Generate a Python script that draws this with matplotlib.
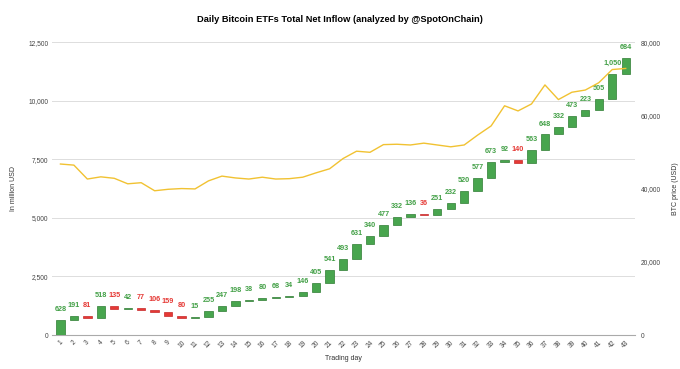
import numpy as np
import matplotlib.pyplot as plt

plt.rcParams['font.family'] = ['Liberation Sans', 'DejaVu Sans']

# Daily net inflow (million USD), trading days 1..43
days = list(range(1, 44))
flows = [628, 191, -81, 518, -135, 42, -77, -106, -159, -80,
         15, 255, 247, 198, 38, 80, 68, 34, 146, 405,
         541, 493, 631, 340, 477, 332, 136, -36, 251, 232,
         520, 577, 673, 92, -140, 563, 648, 332, 473, 223,
         505, 1050, 684]

# BTC price (USD)
btc = [46700, 46400, 42600, 43200, 42800, 41300, 41600, 39400, 39800, 40000,
       39900, 42100, 43400, 42900, 42600, 43100, 42600, 42700, 43100, 44300,
       45400, 48200, 50200, 49900, 52000, 52100, 51900, 52400, 51900, 51400,
       51900, 54600, 57100, 62600, 61200, 63100, 68300, 64300, 66300, 66900,
       68900, 72500, 72800]

green = '#48a54e'
green_edge = '#2e7d32'
red = '#e53935'

flows = np.array(flows)
end = np.cumsum(flows)
start = end - flows
bottoms = np.minimum(start, end)
tops = np.maximum(start, end)
colors = [green if v >= 0 else red for v in flows]
edges = [green_edge if v >= 0 else '#c62828' for v in flows]

fig = plt.figure(figsize=(6.8, 3.69), dpi=100)
ax = fig.add_axes([0.077, 0.092, 0.857, 0.794])

ax.bar(days, np.abs(flows), bottom=bottoms, width=0.62, color=colors,
       edgecolor=edges, linewidth=0.5, zorder=3)

for d, v, t in zip(days, flows, tops):
    ax.annotate(f'{abs(v):,}', (d, t), xytext=(0, 5), textcoords='offset points',
                ha='center', va='bottom', fontsize=5.2, fontweight='bold',
                color='#43a047' if v >= 0 else red)

ax.set_xlim(0.4, 43.7)
ax.set_ylim(0, 12500)
ax.set_yticks(np.arange(0, 12501, 2500))
ax.set_yticklabels([f'{int(v):,}' for v in np.arange(0, 12501, 2500)])
ax.set_xticks(days)
ax.set_xticklabels([str(d) for d in days], rotation=45, ha='center')
ax.grid(axis='y', color='#dddddd', linewidth=0.7, zorder=0)
ax.tick_params(axis='both', labelsize=4.8, colors='#444444', length=0, pad=3)
for s in ['top', 'left', 'right']:
    ax.spines[s].set_visible(False)
ax.spines['bottom'].set_color('#aaaaaa')
ax.set_ylabel('In million USD', fontsize=5, color='#333333', labelpad=8)
ax.set_xlabel('Trading day', fontsize=5, color='#333333', labelpad=4)

ax2 = ax.twinx()
ax2.plot(days, btc, color='#f1c232', linewidth=1.0, zorder=4)
ax2.set_ylim(0, 80000)
ax2.set_yticks(np.arange(0, 80001, 20000))
ax2.set_yticklabels([f'{int(v):,}' for v in np.arange(0, 80001, 20000)])
ax2.tick_params(axis='y', labelsize=4.8, colors='#444444', length=0, pad=4)
for s in ['top', 'left', 'right', 'bottom']:
    ax2.spines[s].set_visible(False)
ax2.set_ylabel('BTC price (USD)', fontsize=5, color='#333333', labelpad=8)

fig.suptitle('Daily Bitcoin ETFs Total Net Inflow (analyzed by @SpotOnChain)',
             fontsize=6.7, fontweight='bold', y=0.96)

fig.savefig('out.png', dpi=100)
